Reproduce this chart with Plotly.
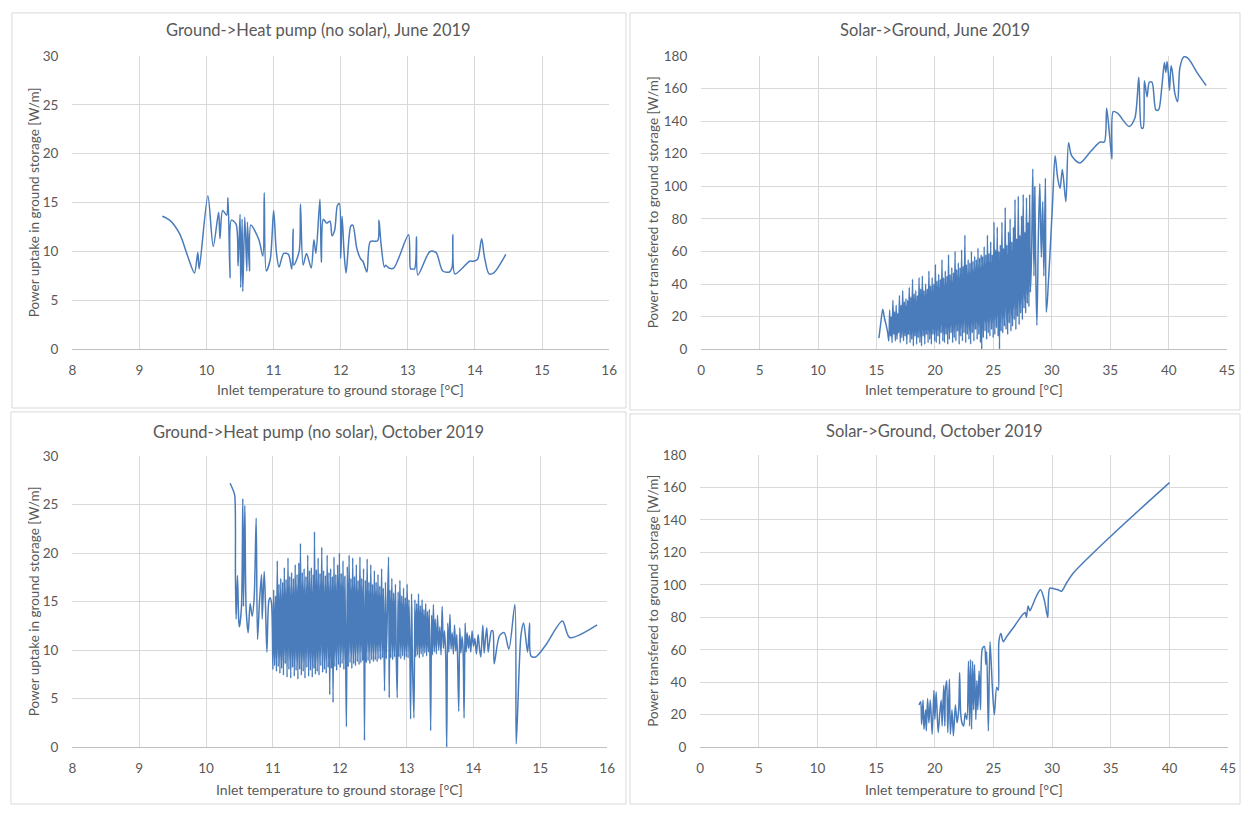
import plotly.graph_objects as go

# ---------------- DATA ----------------
# Panel 1: Ground->Heat pump (no solar), June 2019
june_hp_temp = [
    9.34, 9.45, 9.6, 9.72, 9.82, 9.87, 9.89, 10.02, 10.1, 10.18,
    10.2, 10.24, 10.3, 10.32, 10.35, 10.37, 10.44, 10.47, 10.5, 10.51,
    10.53, 10.54, 10.57, 10.6, 10.61, 10.64, 10.66, 10.78, 10.84, 10.86,
    10.89, 10.95, 11.0, 11.04, 11.08, 11.15, 11.22, 11.27, 11.29, 11.3,
    11.38, 11.4, 11.44, 11.49, 11.56, 11.6, 11.63, 11.69, 11.71, 11.74,
    11.79, 11.84, 11.87, 11.91, 11.95, 11.98, 12.0, 12.02, 12.05, 12.08,
    12.15, 12.18, 12.24, 12.3, 12.33, 12.39, 12.44, 12.55, 12.57, 12.6,
    12.65, 12.67, 12.72, 12.79, 13.01, 13.04, 13.06, 13.1, 13.13, 13.15,
    13.33, 13.42, 13.52, 13.62, 13.66, 13.67, 13.7, 13.8, 13.92, 13.98,
    14.04, 14.1, 14.14, 14.21, 14.28, 14.46]
june_hp_power = [
    13.6, 13.2, 11.8, 9.5, 7.8, 9.9, 8.2, 15.7, 10.5, 14.0,
    11.3, 14.2, 13.7, 15.5, 7.3, 13.2, 12.8, 8.5, 13.8, 6.3,
    13.3, 5.9, 13.5, 8.0, 13.0, 8.0, 12.7, 11.2, 9.5, 16.0,
    8.0, 9.2, 14.2, 10.0, 8.4, 9.8, 9.7, 8.2, 12.3, 8.6,
    10.0, 14.85, 8.6, 9.8, 8.3, 11.2, 9.8, 15.35, 8.9, 13.3,
    12.9, 13.1, 11.6, 12.2, 14.7, 14.9, 9.3, 13.6, 9.9, 7.8,
    12.6, 12.7, 10.3, 9.2, 9.0, 7.9, 11.0, 11.1, 13.2, 10.8,
    8.4, 8.6, 8.3, 8.3, 11.7, 8.2, 8.2, 8.2, 11.5, 7.6,
    10.0, 9.9, 8.0, 7.9, 8.4, 11.7, 7.7, 8.2, 9.0, 9.0,
    9.2, 11.3, 9.5, 7.7, 7.8, 9.7]

# Panel 2: Solar->Ground, June 2019
june_solar_temp_start = [15.20, 15.36, 15.53, 15.68, 15.82, 15.96]
june_solar_power_start = [6.8, 16.0, 24.5, 19.0, 14.9, 9.8]
june_solar_temp_dense = [
    16.05, 16.12, 16.19, 16.26, 16.33, 16.40, 16.47, 16.54, 16.61, 16.68,
    16.75, 16.82, 16.89, 16.96, 17.03, 17.10, 17.17, 17.24, 17.31, 17.38,
    17.45, 17.52, 17.59, 17.66, 17.73, 17.80, 17.87, 17.94, 18.01, 18.08,
    18.15, 18.22, 18.29, 18.36, 18.43, 18.50, 18.57, 18.64, 18.71, 18.78,
    18.85, 18.92, 18.99, 19.06, 19.13, 19.20, 19.27, 19.34, 19.41, 19.48,
    19.55, 19.62, 19.69, 19.76, 19.83, 19.90, 19.97, 20.04, 20.11, 20.18,
    20.25, 20.32, 20.39, 20.46, 20.53, 20.60, 20.67, 20.74, 20.81, 20.88,
    20.95, 21.02, 21.09, 21.16, 21.23, 21.30, 21.37, 21.44, 21.51, 21.58,
    21.65, 21.72, 21.79, 21.86, 21.93, 22.00, 22.07, 22.14, 22.21, 22.28,
    22.35, 22.42, 22.49, 22.56, 22.63, 22.70, 22.77, 22.84, 22.91, 22.98,
    23.05, 23.12, 23.19, 23.26, 23.33, 23.40, 23.47, 23.54, 23.61, 23.68,
    23.75, 23.82, 23.89, 23.95, 24.00, 24.07, 24.14, 24.21, 24.28, 24.35,
    24.42, 24.49, 24.56, 24.63, 24.70, 24.77, 24.84, 24.91, 24.98, 25.05,
    25.12, 25.19, 25.26, 25.33, 25.40, 25.47, 25.52, 25.59, 25.66, 25.73,
    25.80, 25.87, 25.94, 26.01, 26.08, 26.15, 26.22, 26.29, 26.36, 26.43,
    26.50, 26.57, 26.64, 26.71, 26.78, 26.85, 26.92, 26.99, 27.06, 27.13,
    27.20, 27.27, 27.34, 27.41, 27.48, 27.55, 27.62, 27.69, 27.76, 27.83,
    27.90, 27.97, 28.04, 28.10, 28.17]
june_solar_power_dense = [
    5, 24, 8, 20, 4, 30, 9, 23, 5, 27,
    6, 22, 10, 33, 4, 27, 7, 36, 5, 29,
    8, 31, 3, 30, 9, 38, 4, 32, 6, 43,
    2, 34, 8, 36, 3, 33, 7, 44, 4, 37,
    2, 45, 8, 36, 3, 40, 9, 37, 4, 48,
    6, 39, 3, 44, 9, 40, 5, 52, 4, 42,
    8, 46, 3, 43, 10, 55, 5, 44, 4, 48,
    9, 45, 3, 58, 6, 46, 10, 50, 4, 47,
    7, 60, 5, 49, 11, 53, 3, 50, 8, 61,
    5, 51, 10, 70, 4, 52, 9, 55, 6, 53,
    3, 60, 10, 54, 5, 57, 12, 55, 6, 62,
    9, 56, 4, 58, 0, 57, 7, 63, 11, 58,
    6, 70, 10, 59, 8, 66, 12, 58, 7, 78,
    9, 61, 13, 75, 8, 60, 0, 64, 11, 78,
    10, 62, 14, 87, 12, 64, 9, 72, 16, 80,
    11, 66, 14, 75, 18, 92, 12, 68, 20, 94,
    15, 70, 22, 82, 18, 95, 25, 72, 22, 93,
    28, 78, 26, 95, 35]
june_solar_temp_tail = [
    28.27, 28.37, 28.47, 28.54, 28.62, 28.72, 28.85, 28.97, 29.10, 29.22,
    29.32, 29.45, 29.52, 29.62, 30.05, 30.28, 30.50, 30.70, 30.90, 31.20,
    31.43, 31.69, 32.39, 33.37, 34.13, 34.49, 34.69, 34.92, 35.14, 35.25,
    35.62, 36.60, 37.10, 37.44, 37.67, 37.81, 37.92, 38.15, 38.34, 38.57,
    38.90, 39.13, 39.41, 39.63, 39.75, 39.86, 39.97, 40.07, 40.20, 40.30,
    40.53, 40.76, 40.96, 41.29, 41.66, 42.50, 43.20]
june_solar_power_tail = [
    60, 110.7, 45, 99.7, 50, 14.6, 70, 101.7, 56.5, 90.6,
    45, 105, 22.6, 30, 88, 118.8, 105, 98.7, 110.3, 90.6,
    126.8, 118.8, 114.3, 121.8, 127.2, 127.2, 147.9, 132.8, 116.7, 145.9,
    144.9, 136.8, 141.8, 166.9, 135.8, 135.8, 164.9, 154.9, 163.9, 163.9,
    146.9, 146.9, 160.9, 176, 170, 176.6, 169, 158.9, 174, 171,
    156.9, 151.9, 173, 179.5, 178.6, 169, 161.9]

# Panel 3: Ground->Heat pump (no solar), October 2019
oct_hp_temp_start = [
    10.36, 10.41, 10.43, 10.44, 10.45, 10.47, 10.49, 10.50, 10.53, 10.55,
    10.56, 10.58, 10.60, 10.63, 10.66, 10.69, 10.72, 10.75, 10.77, 10.80,
    10.83, 10.84, 10.87, 10.89, 10.91, 10.94, 10.96, 10.98]
oct_hp_power_start = [
    27.2, 26.4, 25.9, 17.5, 13.2, 17.7, 12.9, 12.4, 14.5, 25.6,
    14.5, 24.9, 14.2, 11.8, 14.8, 13.5, 15.4, 23.6, 11.1, 15.1,
    17.8, 13.2, 18.1, 14.5, 9.8, 15.1, 15.4, 14.8]
oct_hp_temp_dense = [
    11.000, 11.012, 11.026, 11.040, 11.053, 11.066, 11.079, 11.092, 11.105, 11.118,
    11.131, 11.145, 11.158, 11.171, 11.185, 11.198, 11.212, 11.226, 11.240, 11.253,
    11.267, 11.280, 11.294, 11.307, 11.320, 11.334, 11.347, 11.361, 11.374, 11.388,
    11.401, 11.412, 11.426, 11.440, 11.453, 11.467, 11.480, 11.494, 11.508, 11.521,
    11.535, 11.548, 11.562, 11.575, 11.589, 11.602, 11.615, 11.622, 11.636, 11.650,
    11.663, 11.677, 11.690, 11.704, 11.717, 11.731, 11.744, 11.758, 11.771, 11.785,
    11.798, 11.812, 11.825, 11.839, 11.850, 11.864, 11.877, 11.890, 11.900, 11.914,
    11.927, 11.941, 11.954, 11.968, 11.981, 11.995, 12.008, 12.022, 12.035, 12.049,
    12.062, 12.076, 12.090, 12.100, 12.113, 12.127, 12.140, 12.154, 12.167, 12.181,
    12.194, 12.208, 12.221, 12.235, 12.248, 12.262, 12.275, 12.289, 12.302, 12.316,
    12.329, 12.343, 12.356, 12.370, 12.383, 12.397, 12.410, 12.424, 12.437, 12.451,
    12.464, 12.478, 12.491, 12.505, 12.518, 12.532, 12.545, 12.559, 12.572, 12.586,
    12.599, 12.613, 12.626, 12.640, 12.653, 12.670, 12.684, 12.697, 12.730, 12.740,
    12.752, 12.765, 12.779, 12.792, 12.806, 12.819, 12.833, 12.846, 12.860, 12.873,
    12.887, 12.900, 12.914, 12.927, 12.941, 12.954, 12.968, 12.981, 12.995, 13.008,
    13.022, 13.035, 13.050, 13.060, 13.074, 13.087, 13.110, 13.124, 13.137, 13.151,
    13.164, 13.178, 13.191, 13.205, 13.218, 13.232, 13.245, 13.259, 13.272, 13.286,
    13.299, 13.313, 13.326, 13.340, 13.360, 13.374, 13.387, 13.401, 13.414, 13.428,
    13.445, 13.462, 13.480, 13.497, 13.515, 13.532, 13.550, 13.567, 13.585, 13.600,
    13.615, 13.632, 13.648, 13.665, 13.682, 13.700, 13.717, 13.735, 13.752, 13.780,
    13.795, 13.812, 13.830, 13.845, 13.860, 13.875, 13.890, 13.905, 13.925, 13.940,
    13.960, 13.980, 14.000, 14.020, 14.045, 14.070, 14.090, 14.110, 14.140, 14.160,
    14.180, 14.200, 14.220, 14.240, 14.270, 14.290, 14.310, 14.390, 14.460, 14.530]
oct_hp_power_dense = [
    8.0, 16.2, 8.4, 15.6, 7.8, 19.2, 8.3, 16.8, 7.6, 17.4,
    8.1, 17.0, 7.4, 18.5, 8.6, 17.3, 7.2, 19.5, 8.0, 17.6,
    7.1, 18.0, 8.2, 17.4, 7.3, 18.8, 7.9, 17.8, 7.0, 19.0,
    8.0, 21.0, 7.4, 18.0, 7.8, 18.4, 7.1, 17.6, 8.2, 19.8,
    7.3, 18.2, 7.9, 18.5, 7.2, 17.8, 8.1, 22.2, 7.5, 18.3,
    7.8, 19.5, 7.4, 17.9, 8.4, 20.6, 7.7, 18.2, 8.0, 17.7,
    7.6, 19.8, 8.2, 18.0, 5.4, 18.4, 8.1, 17.6, 4.6, 19.6,
    8.3, 17.8, 7.9, 18.8, 8.5, 20.0, 8.2, 17.9, 8.6, 19.2,
    8.0, 17.6, 8.4, 2.1, 18.6, 8.3, 19.8, 8.7, 17.4, 8.1,
    19.5, 8.6, 17.6, 8.4, 18.8, 8.8, 17.2, 8.5, 19.6, 8.7,
    17.4, 8.9, 18.4, 0.7, 17.2, 8.7, 19.4, 8.9, 17.0, 8.6,
    18.8, 9.0, 16.8, 8.8, 18.2, 9.0, 17.0, 8.8, 17.8, 9.1,
    16.6, 9.0, 18.4, 9.2, 16.4, 5.8, 17.0, 9.1, 19.6, 5.1,
    16.2, 9.2, 17.4, 9.0, 15.9, 9.3, 16.8, 9.2, 5.1, 16.0,
    9.3, 17.2, 9.1, 15.6, 9.4, 16.4, 9.0, 15.4, 9.3, 16.8,
    9.2, 15.2, 9.4, 2.9, 15.8, 9.0, 3.0, 15.2, 9.3, 14.8,
    9.5, 15.8, 9.2, 14.6, 9.6, 15.2, 9.3, 14.2, 9.7, 14.8,
    9.4, 14.0, 9.8, 14.2, 1.7, 13.6, 9.5, 14.7, 9.8, 13.2,
    9.6, 13.6, 10.0, 12.4, 9.5, 14.5, 10.2, 12.0, 9.4, 0.0,
    12.8, 9.8, 13.7, 10.1, 11.8, 9.6, 12.6, 9.9, 11.6, 3.7,
    12.3, 9.7, 11.4, 10.0, 3.0, 12.8, 9.8, 11.8, 10.2, 11.5,
    9.8, 12.0, 10.4, 11.2, 9.6, 11.6, 10.2, 9.3, 12.6, 9.7,
    11.2, 12.3, 9.8, 10.8, 12.0, 12.0, 8.6, 11.5, 11.8, 10.1]
oct_hp_temp_tail = [14.620, 14.640, 14.710, 14.750, 14.810, 14.840,
                    14.860, 14.930, 15.080, 15.330, 15.440, 15.850]
oct_hp_power_tail = [14.7, 0.35, 11.5, 12.8, 9.8, 12.8,
                     9.4, 9.3, 10.5, 13.0, 11.3, 12.6]

# Panel 4: Solar->Ground, October 2019
oct_solar_temp = [
    18.65, 18.79, 18.87, 18.99, 19.07, 19.21, 19.27, 19.38, 19.49, 19.61,
    19.77, 19.92, 20.00, 20.11, 20.28, 20.42, 20.54, 20.62, 20.76, 20.85,
    20.90, 21.01, 21.10, 21.24, 21.32, 21.46, 21.58, 21.75, 21.89, 22.03,
    22.11, 22.20, 22.31, 22.45, 22.59, 22.73, 22.87, 22.96, 23.04, 23.13,
    23.21, 23.30, 23.38, 23.49, 23.58, 23.66, 23.77, 23.89, 24.06, 24.23,
    24.34, 24.42, 24.56, 24.70, 24.90, 25.07, 25.27, 25.41, 25.46, 25.63,
    25.83, 26.11, 26.82, 27.52, 27.70, 27.80, 27.95, 28.10, 28.30, 28.65,
    29.01, 29.35, 29.62, 29.80, 30.20, 30.50, 30.79, 31.21, 31.77, 35.00,
    40.00]
oct_solar_power = [
    26, 28, 14, 29, 11, 23, 10, 30, 15, 29,
    8, 35, 17, 34, 9, 21, 29, 13, 38, 13,
    35, 41, 9, 42, 8, 23, 7, 26, 15, 23,
    46, 21, 15, 13, 21, 17, 53, 13, 54, 11,
    53, 23, 51, 17, 41, 23, 47, 23, 61, 62,
    51, 59, 10, 65, 37, 20, 37, 35, 65, 70,
    65, 68, 75, 82, 83, 80, 87, 84, 87, 93,
    97, 90, 80, 98, 97.5, 97, 96, 101, 107, 130,
    163]

titles = ["Ground->Heat pump (no solar), June 2019",
          "Solar->Ground, June 2019",
          "Ground->Heat pump (no solar), October 2019",
          "Solar->Ground, October 2019"]
x_titles = ["Inlet temperature to ground storage [°C]",
            "Inlet temperature to ground [°C]",
            "Inlet temperature to ground storage [°C]",
            "Inlet temperature to ground [°C]"]
y_titles = ["Power uptake in ground storage [W/m]",
            "Power transfered to ground storage [W/m]",
            "Power uptake in ground storage [W/m]",
            "Power transfered to ground storage [W/m]"]

# ---------------- FIGURE ----------------
W, H = 1250, 814
LINE = "#4a7cbb"
TXT = "#595959"
GRID = "#d9d9d9"
FONT = "Lato"

def fx(p):
    return p / W

def fy(p):
    return 1 - p / H

series = [
    (june_hp_temp, june_hp_power),
    (june_solar_temp_start + june_solar_temp_dense + june_solar_temp_tail,
     june_solar_power_start + june_solar_power_dense + june_solar_power_tail),
    (oct_hp_temp_start + oct_hp_temp_dense + oct_hp_temp_tail,
     oct_hp_power_start + oct_hp_power_dense + oct_hp_power_tail),
    (oct_solar_temp, oct_solar_power),
]

# layout geometry (pixels): plot area, panel box, title y, x-title y, y-title x
geo = [
    dict(px=(69, 611), py=(49, 348), box=(8, 5, 628, 408), ty=22, xty=389, ytx=30,
         xr=[8, 16], xd=1, yr=[0, 30], yd=5),
    dict(px=(704, 1235), py=(49, 348), box=(632, 5, 1248, 410), ty=22, xty=389, ytx=655,
         xr=[0, 45], xd=5, yr=[0, 180], yd=20),
    dict(px=(69, 609), py=(457, 754), box=(7, 412, 628, 812), ty=432, xty=797, ytx=30,
         xr=[8, 16], xd=1, yr=[0, 30], yd=5),
    dict(px=(703, 1236), py=(456, 754), box=(632, 414, 1248, 812), ty=431, xty=797, ytx=655,
         xr=[0, 45], xd=5, yr=[0, 180], yd=20),
]

fig = go.Figure()
annotations = []
shapes = []
layout_axes = {}
for i, ((xs, ys), g) in enumerate(zip(series, geo)):
    n = "" if i == 0 else str(i + 1)
    fig.add_trace(go.Scatter(
        x=xs, y=ys, mode="lines",
        line=dict(color=LINE, width=1.5, shape="spline", smoothing=0.8),
        xaxis="x" + n, yaxis="y" + n, showlegend=False, hoverinfo="skip"))
    layout_axes["xaxis" + n] = dict(
        domain=[fx(g["px"][0]), fx(g["px"][1])], range=g["xr"], dtick=g["xd"], tick0=0,
        anchor="y" + n, showgrid=True, gridcolor=GRID, gridwidth=1, zeroline=False,
        showline=True, linecolor="#bfbfbf", linewidth=1, ticks="",
        tickfont=dict(family=FONT, size=13.5, color=TXT), ticklabelstandoff=9,
        fixedrange=True)
    layout_axes["yaxis" + n] = dict(
        domain=[fy(g["py"][1]), fy(g["py"][0])], range=g["yr"], dtick=g["yd"], tick0=0,
        anchor="x" + n, showgrid=True, gridcolor=GRID, gridwidth=1, zeroline=False,
        showline=False, ticks="",
        tickfont=dict(family=FONT, size=13.5, color=TXT), ticklabelstandoff=13,
        fixedrange=True)
    bx0, by0, bx1, by1 = g["box"]
    shapes.append(dict(type="rect", xref="paper", yref="paper",
                       x0=fx(bx0), x1=fx(bx1), y0=fy(by1), y1=fy(by0),
                       line=dict(color=GRID, width=1), fillcolor="rgba(0,0,0,0)",
                       layer="below"))
    annotations.append(dict(text=titles[i], xref="paper", yref="paper",
                            x=fx((bx0 + bx1) / 2), y=fy(g["ty"]),
                            xanchor="center", yanchor="middle", showarrow=False,
                            font=dict(family=FONT, size=16.5, color=TXT)))
    annotations.append(dict(text=x_titles[i], xref="paper", yref="paper",
                            x=fx((g["px"][0] + g["px"][1]) / 2), y=fy(g["xty"]),
                            xanchor="center", yanchor="middle", showarrow=False,
                            font=dict(family=FONT, size=14, color=TXT)))
    annotations.append(dict(text=y_titles[i], xref="paper", yref="paper",
                            x=fx(g["ytx"]), y=fy((g["py"][0] + g["py"][1]) / 2),
                            xanchor="center", yanchor="middle", showarrow=False,
                            textangle=-90,
                            font=dict(family=FONT, size=13.5, color=TXT)))

fig.update_layout(
    width=W, height=H, margin=dict(l=0, r=0, t=0, b=0),
    paper_bgcolor="white", plot_bgcolor="white",
    annotations=annotations, shapes=shapes, showlegend=False,
    **layout_axes)

fig.write_html("out.html", config={"displayModeBar": False})
